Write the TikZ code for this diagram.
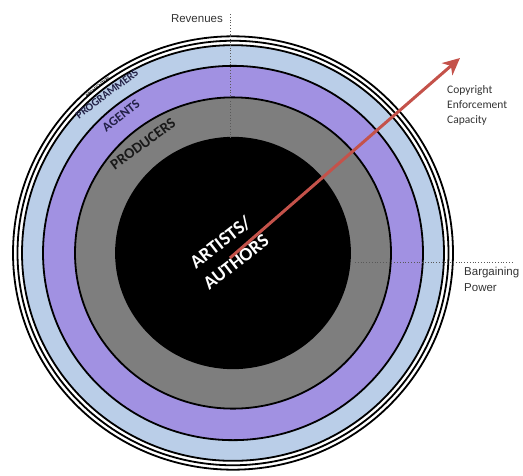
\documentclass[tikz,border=0pt]{standalone}
\usepackage{fontspec}
\setmainfont{Carlito}
\newfontfamily\axisfont{Liberation Sans}
\usetikzlibrary{arrows.meta, positioning}

\definecolor{ringblue}{RGB}{186,206,232}
\definecolor{ringpurple}{RGB}{161,145,226}
\definecolor{ringgray}{RGB}{126,126,126}
\definecolor{arrowred}{RGB}{196,82,74}
\definecolor{labelnavy}{RGB}{34,32,70}

\tikzset{
  ringline/.style={draw=black,line width=1.8pt},
  guideline/.style={dotted,line width=0.8pt,black!65},
  axislabel/.style={font=\axisfont\fontsize{11.5}{16}\selectfont,text=black!80,
                    align=left,inner sep=0pt},
  bandlabel/.style={inner sep=0pt}
}

\begin{document}
\begin{tikzpicture}[x=1pt,y=-1pt]
      \useasboundingbox (0,0) rectangle (523,475);
      \coordinate (c) at (233,253);
      \foreach \r/\col in {220/white,215.5/white,211/ringblue,190/ringpurple,
                           158/ringgray,117/black}
        \draw[ringline,fill=\col] (c) ellipse [x radius=\r pt,y radius=0.985*\r pt];

      \coordinate (revtop) at (230,14);
      \coordinate (revbot) at (230,139);
      \draw[guideline] (revtop)--(revbot);
      \coordinate (barleft) at (355,262);
      \coordinate (barright) at (512,262);
      \draw[guideline] (barleft)--(barright);

      \node[axislabel,anchor=north east] (revenues) at (223,14) {Revenues};
      \node[axislabel,font=\fontsize{11.5}{15}\selectfont,anchor=north west]
            (copyright) at (447,85) {Copyright\\Enforcement\\Capacity};
      \node[axislabel,anchor=north west] (bargaining) at (464,267)
            {Bargaining\\Power};

      \node[bandlabel,rotate=39,font=\fontsize{4.5}{5}\bfseries,text=black]
            (broadcasters) at (98,87) {BROADCASTERS};
      \node[bandlabel,rotate=37,font=\fontsize{11}{11}\bfseries,text=labelnavy]
            (programmers) at (107,94) {PROGRAMMERS};
      \node[bandlabel,rotate=38,font=\fontsize{13}{13}\bfseries,text=labelnavy]
            (agents) at (121,116) {AGENTS};
      \node[bandlabel,rotate=36,font=\fontsize{15}{15}\bfseries,text=black!90]
            (producers) at (143,144) {PRODUCERS};
      \node[bandlabel,rotate=38,font=\fontsize{19}{25}\bfseries,text=white,
            align=center] (artists) at (228,252) {ARTISTS/\\AUTHORS};

      \coordinate (arrowfoot) at (230,258);
      \coordinate (arrowtip) at (460,58);
      \draw[line width=3pt,arrowred,-{Stealth[length=17pt,width=16pt,inset=5pt]}]
            (arrowfoot)--(arrowtip);
    \end{tikzpicture}
\end{document}
